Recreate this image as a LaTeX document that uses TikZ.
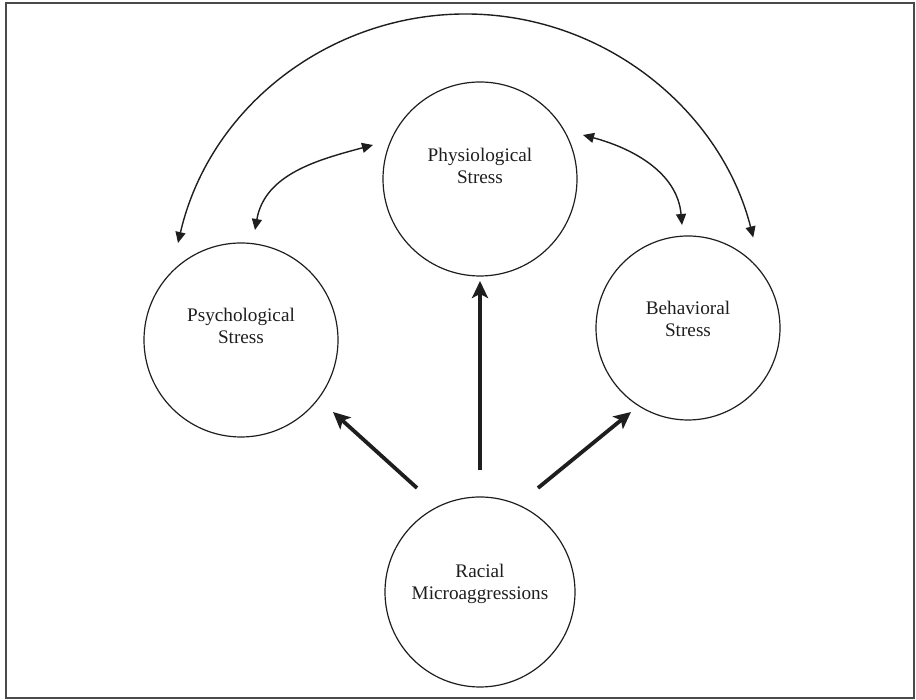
\documentclass[tikz,border=0pt]{standalone}
\usepackage{fontspec}
\setmainfont{Liberation Serif}
\usetikzlibrary{arrows.meta,calc}
\definecolor{ink}{HTML}{1E1E1E}
\definecolor{framegray}{HTML}{4A4A4A}
\begin{document}
\begin{tikzpicture}[x=1pt,y=1pt,
  bubble/.style={circle,draw=ink,line width=1.2pt,inner sep=0pt},
  lbl/.style={align=center,text=ink,font=\fontsize{19.2}{22.5}\selectfont},
  thinarr/.style={draw=ink,line width=1.4pt,{Triangle[length=11pt,width=10pt]}-{Triangle[length=11pt,width=10pt]}},
  thickarr/.style={draw=ink,line width=3.8pt,-{Stealth[length=17pt,width=16pt,inset=4pt]}}]
\useasboundingbox (0,0) rectangle (916,700);
\draw[framegray,line width=1.6pt] (6,2) rectangle (914,697);
% circles
\node[bubble,minimum size=194pt] (phys) at (480,521) {};
\node[bubble,minimum size=194pt] (psych) at (241,360) {};
\node[bubble,minimum size=184pt] (behav) at (688,372) {};
\node[bubble,minimum size=190pt] (rac) at (480,108) {};
% labels
\node[lbl] (physl) at ($(phys)+(0,13)$) {Physiological\\Stress};
\node[lbl] (psychl) at ($(psych)+(0,14)$) {Psychological\\Stress};
\node[lbl] (behavl) at ($(behav)+(0,9)$) {Behavioral\\Stress};
\node[lbl] (racl) at ($(rac)+(0,8)$) {Racial\\Microaggressions};
% connector end points
\coordinate (bigL) at ($(psych)+(-63,97)$);
\coordinate (smLa) at ($(phys)+(-107,34)$);
\coordinate (smLb) at ($(psych)+(14,110)$);
\coordinate (smRa) at ($(phys)+(103,44)$);
\coordinate (smRb) at ($(behav)+(-6,103)$);
\coordinate (tL0) at ($(rac)+(-63,104)$);
\coordinate (tL1) at ($(psych)+(92,-72)$);
\coordinate (tM0) at ($(rac)+(0,122)$);
\coordinate (tM1) at ($(phys)+(0,-102)$);
\coordinate (tR0) at ($(rac)+(58,104)$);
\coordinate (tR1) at ($(behav)+(-57,-84)$);
% bidirectional curved arrows
\draw[thinarr] (bigL) arc[start angle=166.9,end angle=14.2,radius=296pt];
\draw[thinarr] (smLa) to[out=195,in=80] (smLb);
\draw[thinarr] (smRa) to[out=-15,in=95] (smRb);
% thick arrows
\draw[thickarr] (tL0) -- (tL1);
\draw[thickarr] (tM0) -- (tM1);
\draw[thickarr] (tR0) -- (tR1);
\end{tikzpicture}
\end{document}
